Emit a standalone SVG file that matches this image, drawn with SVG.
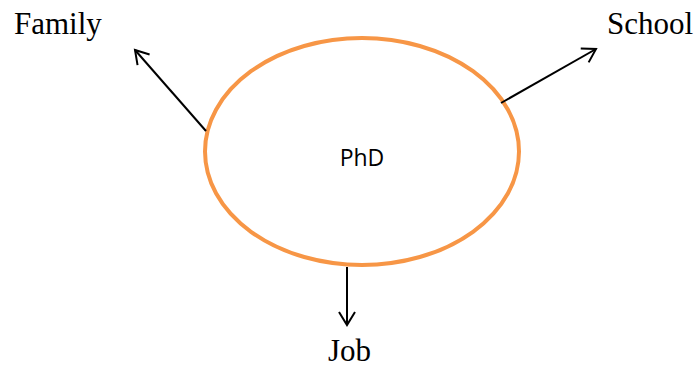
<svg xmlns="http://www.w3.org/2000/svg" width="697" height="368" viewBox="0 0 697 368">
<style>
.lbl{font-family:"Liberation Serif","Times New Roman",serif;font-size:31px;fill:#000}
.in{font-family:"Open Sans","Noto Sans",sans-serif;font-size:23px;fill:#000}
.con{stroke:#000;stroke-width:2;fill:none;marker-end:url(#ah)}
</style>
<defs>
<marker id="ah" viewBox="0 0 20 20" refX="16" refY="10" markerWidth="20" markerHeight="20" markerUnits="userSpaceOnUse" orient="auto">
<path d="M3,2 L16,10 L3,18" fill="none" stroke="#000" stroke-width="2"/>
</marker>
</defs>
<rect width="697" height="368" fill="#fff"/>
<g id="phd">
<ellipse cx="362" cy="151.5" rx="157" ry="113.5" fill="#fff" stroke="#F79646" stroke-width="4"/>
<text class="in" x="362" y="166" text-anchor="middle">PhD</text>
</g>
<g id="family"><text class="lbl" x="14" y="34">Family</text></g>
<g id="school"><text class="lbl" x="607" y="34">School</text></g>
<g id="job"><text class="lbl" x="349.5" y="361" text-anchor="middle">Job</text></g>
<g id="connectors">
<line class="con" x1="206" y1="131" x2="135" y2="50"/>
<line class="con" x1="501" y1="103" x2="596" y2="49"/>
<line class="con" x1="347" y1="267" x2="347" y2="325"/>
</g>
</svg>
